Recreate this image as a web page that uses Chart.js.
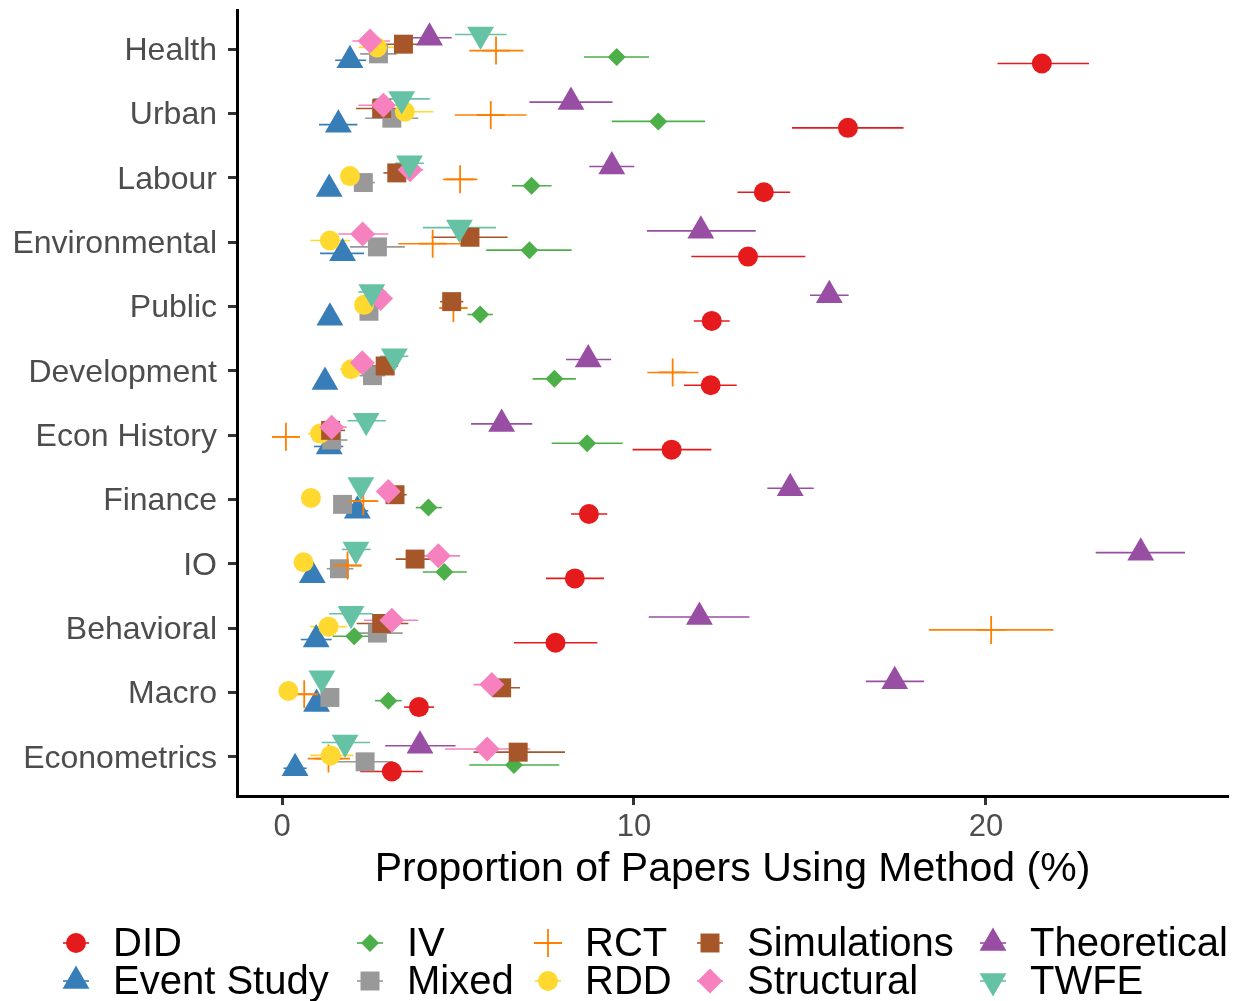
<!DOCTYPE html>
<html>
<head>
<meta charset="utf-8">
<script src="https://cdn.jsdelivr.net/npm/chart.js@4.4.1/dist/chart.umd.min.js"></script>
<style>
  html, body { margin: 0; padding: 0; background: #fff; }
  canvas { display: block; }
</style>
</head>
<body>
<canvas id="chart" width="1233" height="1001"></canvas>
<script>
// fields, top to bottom
const FIELDS = ['Health', 'Urban', 'Labour', 'Environmental', 'Public', 'Development',
  'Econ History', 'Finance', 'IO', 'Behavioral', 'Macro', 'Econometrics'];
const X_TICKS = [0, 10, 20];

// share of papers (%) per field, with interval bounds
const DID = [21.59, 16.08, 13.69, 13.24, 12.21, 12.18, 11.07, 8.72, 8.32, 7.77, 3.89, 3.12];
const DID_LO = [20.33, 14.49, 12.94, 11.63, 11.70, 11.42, 9.96, 8.21, 7.50, 6.59, 3.47, 2.22];
const DID_HI = [22.93, 17.66, 14.44, 14.87, 12.72, 12.92, 12.20, 9.24, 9.15, 8.96, 4.32, 4.00];

const EVENT = [1.93, 1.60, 1.34, 1.72, 1.36, 1.22, 1.34, 2.14, 0.86, 0.97, 0.98, 0.37];
const EVENT_LO = [1.51, 1.05, 1.20, 1.08, 1.25, 1.10, 0.91, 1.84, 0.72, 0.53, 0.85, 0.04];
const EVENT_HI = [2.39, 2.14, 1.48, 2.33, 1.48, 1.35, 1.74, 2.45, 1.00, 1.41, 1.12, 0.70];

const IV = [9.51, 10.69, 7.09, 7.03, 5.63, 7.74, 8.67, 4.16, 4.61, 2.05, 3.02, 6.59];
const IV_LO = [8.58, 9.37, 6.53, 5.80, 5.27, 7.12, 7.66, 3.80, 4.00, 1.44, 2.64, 5.32];
const IV_HI = [10.43, 12.02, 7.66, 8.23, 5.99, 8.35, 9.68, 4.54, 5.25, 2.69, 3.40, 7.88];

const MIXED = [2.74, 3.12, 2.31, 2.71, 2.47, 2.57, 1.41, 1.72, 1.63, 2.71, 1.36, 2.36];
const MIXED_LO = [2.22, 2.36, 1.98, 1.93, 2.20, 2.20, 1.00, 1.60, 1.27, 1.98, 1.20, 1.55];
const MIXED_HI = [3.26, 3.87, 2.64, 3.49, 2.73, 2.93, 1.86, 1.85, 2.03, 3.43, 1.52, 3.16];

const RCT = [6.08, 5.93, 5.06, 4.28, 4.87, 11.10, 0.11, 2.31, 1.86, 20.15, 0.63, 1.32];
const RCT_LO = [5.32, 4.91, 4.58, 3.30, 4.47, 10.38, -0.28, 1.93, 1.46, 18.38, 0.45, 0.73];
const RCT_HI = [6.86, 6.95, 5.55, 5.25, 5.27, 11.83, 0.51, 2.74, 2.26, 21.92, 0.85, 1.93];

const RDD = [2.70, 3.49, 1.93, 1.36, 2.33, 1.96, 1.08, 0.82, 0.61, 1.32, 0.18, 1.38];
const RDD_LO = [2.17, 2.64, 1.85, 0.80, 2.25, 1.65, 0.74, 0.78, 0.57, 0.80, 0.14, 0.80];
const RDD_HI = [3.21, 4.30, 2.01, 1.93, 2.41, 2.31, 1.55, 0.86, 0.65, 1.84, 0.22, 2.03];

const SIM = [3.45, 2.83, 3.26, 5.34, 4.82, 2.93, 1.38, 3.21, 3.78, 2.83, 6.24, 6.71];
const SIM_LO = [2.88, 2.10, 2.88, 4.25, 4.49, 2.55, 0.97, 2.90, 3.23, 2.12, 5.72, 5.44];
const SIM_HI = [4.01, 3.54, 3.68, 6.41, 5.15, 3.30, 1.79, 3.54, 4.37, 3.59, 6.76, 8.04];

const STRUCT = [2.50, 2.88, 3.64, 2.29, 2.80, 2.28, 1.41, 3.02, 4.44, 3.12, 5.96, 5.83];
const STRUCT_LO = [2.00, 2.17, 3.26, 1.60, 2.55, 2.07, 1.03, 2.90, 3.83, 2.33, 5.44, 4.63];
const STRUCT_HI = [3.07, 3.26, 4.01, 3.02, 3.07, 2.55, 1.84, 3.14, 5.06, 3.87, 6.46, 7.05];

const THEO = [4.19, 8.21, 9.37, 11.90, 15.55, 8.70, 6.24, 14.44, 24.40, 11.86, 17.41, 3.92];
const THEO_LO = [3.54, 7.03, 8.73, 10.37, 15.00, 8.07, 5.37, 13.79, 23.12, 10.42, 16.59, 2.93];
const THEO_HI = [4.82, 9.39, 10.01, 13.46, 16.10, 9.35, 7.11, 15.11, 25.66, 13.28, 18.24, 4.93];

const TWFE = [5.64, 3.40, 3.62, 5.04, 2.55, 3.19, 2.39, 2.24, 2.10, 1.96, 1.13, 1.79];
const TWFE_LO = [4.91, 2.59, 3.21, 4.00, 2.17, 2.78, 1.86, 2.10, 1.70, 1.34, 1.00, 1.13];
const TWFE_HI = [6.38, 4.20, 4.03, 6.08, 2.97, 3.59, 2.95, 2.38, 2.52, 2.58, 1.26, 2.50];

const FONT = "'Liberation Sans', Arial, Helvetica, sans-serif";
Chart.defaults.font.family = FONT;

const methods = [
  { name: 'DID', mid: DID, lo: DID_LO, hi: DID_HI, color: '#E41A1C', style: 'circle', r: 10 },
  { name: 'Event Study', mid: EVENT, lo: EVENT_LO, hi: EVENT_HI, color: '#377EB8', style: 'triangle', r: 15.5 },
  { name: 'IV', mid: IV, lo: IV_LO, hi: IV_HI, color: '#4DAF4A', style: 'rectRot', r: 9 },
  { name: 'Mixed', mid: MIXED, lo: MIXED_LO, hi: MIXED_HI, color: '#999999', style: 'rect', r: 13.4 },
  { name: 'RCT', mid: RCT, lo: RCT_LO, hi: RCT_HI, color: '#FF7F00', style: 'cross', r: 14 },
  { name: 'RDD', mid: RDD, lo: RDD_LO, hi: RDD_HI, color: '#FFD92F', style: 'circle', r: 10 },
  { name: 'Simulations', mid: SIM, lo: SIM_LO, hi: SIM_HI, color: '#A65628', style: 'rect', r: 13.4 },
  { name: 'Structural', mid: STRUCT, lo: STRUCT_LO, hi: STRUCT_HI, color: '#F781BF', style: 'rectRot', r: 12.5 },
  { name: 'Theoretical', mid: THEO, lo: THEO_LO, hi: THEO_HI, color: '#984EA3', style: 'triangle', r: 15.5 },
  { name: 'TWFE', mid: TWFE, lo: TWFE_LO, hi: TWFE_HI, color: '#66C2A5', style: 'triangle', r: 15.5, rot: 180 }
];

// dodge: 10 groups spread over half a category
const dodge = k => 0.225 - 0.05 * k;

const datasets = methods.map((m, k) => ({
  label: m.name,
  data: m.mid.map((v, i) => ({ x: v, y: i + dodge(k), lo: m.lo[i], hi: m.hi[i] })),
  pointStyle: m.style,
  pointRadius: m.r,
  pointRotation: m.rot || 0,
  backgroundColor: m.color,
  borderColor: m.color,
  borderWidth: m.style === 'cross' ? 1.8 : 0,
  showLine: false,
  order: 10 - k
}));

const errorBars = {
  id: 'errorBars',
  beforeDatasetsDraw(chart) {
    const { ctx, scales: { x, y } } = chart;
    ctx.save();
    ctx.lineWidth = 1.6;
    chart.data.datasets.forEach(ds => {
      ctx.strokeStyle = ds.borderColor;
      ds.data.forEach(p => {
        const py = y.getPixelForValue(p.y);
        ctx.beginPath();
        ctx.moveTo(x.getPixelForValue(p.lo), py);
        ctx.lineTo(x.getPixelForValue(p.hi), py);
        ctx.stroke();
      });
    });
    ctx.restore();
  }
};

// legend in two rows, filled column by column
const legendGrid = {
  id: 'legendGrid',
  afterDraw(chart) {
    const ctx = chart.ctx;
    const keyX = [76, 370, 548, 710, 993];
    const rowY = [943, 981];
    ctx.save();
    chart.data.datasets.forEach((ds, k) => {
      const cx = keyX[Math.floor(k / 2)];
      const cy = rowY[k % 2];
      ctx.strokeStyle = ds.borderColor;
      ctx.fillStyle = ds.backgroundColor;
      ctx.lineWidth = 1.6;
      ctx.beginPath();
      ctx.moveTo(cx - 13, cy);
      ctx.lineTo(cx + 13, cy);
      ctx.stroke();
      ctx.lineWidth = ds.borderWidth;
      Chart.helpers.drawPoint(ctx, {
        pointStyle: ds.pointStyle,
        radius: ds.pointRadius,
        rotation: ds.pointRotation,
        borderWidth: ds.borderWidth
      }, cx, cy);
      ctx.fillStyle = '#000000';
      ctx.font = '40px ' + FONT;
      ctx.textAlign = 'left';
      ctx.textBaseline = 'middle';
      ctx.fillText(ds.label, cx + 37, cy + 2);
    });
    ctx.restore();
  }
};

new Chart(document.getElementById('chart'), {
  type: 'scatter',
  data: { datasets: datasets },
  options: {
    responsive: false,
    animation: false,
    layout: { autoPadding: false, padding: { top: 10, right: 5, left: 0, bottom: 107 } },
    plugins: { legend: { display: false }, tooltip: { enabled: false } },
    scales: {
      x: {
        type: 'linear',
        min: -1.28,
        max: 26.88,
        afterBuildTicks: s => { s.ticks = X_TICKS.map(v => ({ value: v })); },
        afterFit: s => { s.height = 98; s.paddingLeft = 0; s.paddingRight = 0; },
        grid: { drawOnChartArea: false, drawTicks: true, tickLength: 9, tickWidth: 3, tickColor: '#333333' },
        border: { display: true, color: '#000000', width: 3 },
        ticks: { font: { size: 31 }, color: '#4D4D4D', padding: 4, callback: v => String(v) },
        title: {
          display: true,
          text: 'Proportion of Papers Using Method (%)',
          font: { size: 41 },
          color: '#000000',
          padding: { top: 0, bottom: 0 }
        }
      },
      y: {
        type: 'linear',
        reverse: true,
        min: -0.606,
        max: 11.606,
        afterBuildTicks: s => { s.ticks = FIELDS.map((f, i) => ({ value: i })); },
        afterFit: s => { s.width = 237; s.paddingTop = 0; s.paddingBottom = 0; },
        grid: { drawOnChartArea: false, drawTicks: true, tickLength: 9, tickWidth: 3, tickColor: '#333333' },
        border: { display: true, color: '#000000', width: 3 },
        ticks: { font: { size: 32 }, color: '#4D4D4D', padding: 11, labelOffset: 2, callback: v => FIELDS[v] }
      }
    }
  },
  plugins: [errorBars, legendGrid]
});
</script>
</body>
</html>
